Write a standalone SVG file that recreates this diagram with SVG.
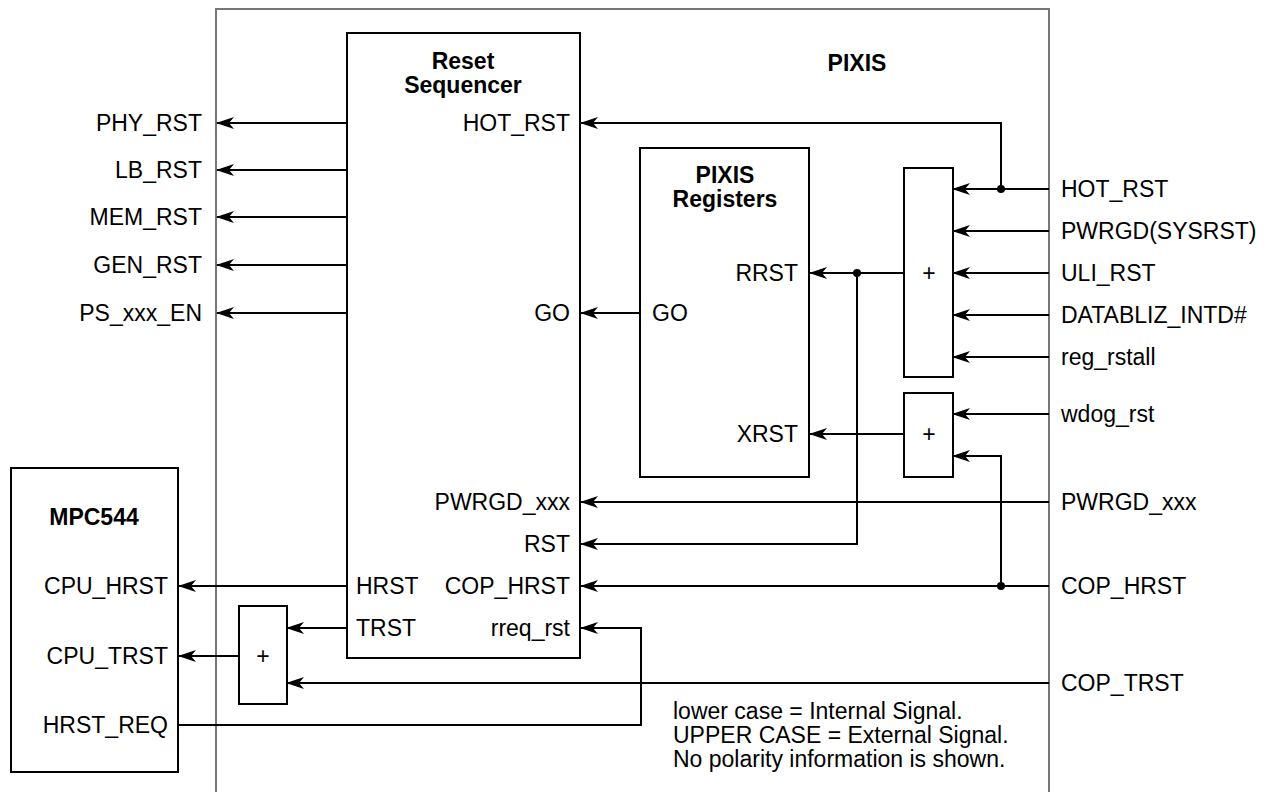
<svg xmlns="http://www.w3.org/2000/svg" width="1274" height="792" viewBox="0 0 1274 792">
<style>
text{font-family:"Liberation Sans",Arial,sans-serif;font-size:23px;fill:#000}
.b{font-weight:bold}
.r{text-anchor:end}
.m{text-anchor:middle}
.box{fill:none;stroke:#000;stroke-width:2}
.wa{fill:none;stroke:#000;stroke-width:2;marker-end:url(#arr)}
.frame{fill:none;stroke:#777;stroke-width:2}
</style>
<defs>
<marker id="arr" markerUnits="userSpaceOnUse" markerWidth="20" markerHeight="14" viewBox="-1 -7 20 14" refX="17" refY="0" orient="auto">
<path d="M18,0 L0,-6 L5,0 L0,6 Z" fill="#000"/>
</marker>
</defs>
<rect width="1274" height="792" fill="#fff"/>
<g id="pixis-frame">
<path class="frame" d="M216,792 V9 H1049 V792"/>
<text class="b m" x="857" y="71">PIXIS</text>
</g>
<g id="reset-sequencer">
<rect class="box" x="347" y="33" width="233" height="625"/>
<text class="b m" x="463" y="69">Reset</text>
<text class="b m" x="463" y="93">Sequencer</text>
<text class="r" x="570" y="131">HOT_RST</text>
<text class="r" x="570" y="321">GO</text>
<text class="r" x="570" y="510">PWRGD_xxx</text>
<text class="r" x="570" y="552">RST</text>
<text class="r" x="570" y="594">COP_HRST</text>
<text class="r" x="570" y="636">rreq_rst</text>
<text x="356" y="594">HRST</text>
<text x="356" y="636">TRST</text>
</g>
<g id="pixis-registers">
<rect class="box" x="640" y="148" width="169" height="329"/>
<text class="b m" x="725" y="183">PIXIS</text>
<text class="b m" x="725" y="207">Registers</text>
<text class="r" x="798" y="281">RRST</text>
<text class="r" x="798" y="442">XRST</text>
<text x="652" y="321">GO</text>
</g>
<g id="or-main">
<rect class="box" x="904" y="168" width="49" height="209"/>
<text class="m" x="929" y="281">+</text>
</g>
<g id="or-xrst">
<rect class="box" x="904" y="393" width="49" height="84"/>
<text class="m" x="929" y="442">+</text>
</g>
<g id="or-trst">
<rect class="box" x="239" y="606" width="48" height="98"/>
<text class="m" x="263" y="664">+</text>
</g>
<g id="mpc544">
<rect class="box" x="11" y="468" width="167" height="304"/>
<text class="b m" x="94" y="525">MPC544</text>
<text class="r" x="168" y="594">CPU_HRST</text>
<text class="r" x="168" y="664">CPU_TRST</text>
<text class="r" x="168" y="733">HRST_REQ</text>
</g>
<g id="outputs-left">
<text class="r" x="202" y="131">PHY_RST</text>
<text class="r" x="202" y="178">LB_RST</text>
<text class="r" x="202" y="225">MEM_RST</text>
<text class="r" x="202" y="273">GEN_RST</text>
<text class="r" x="202" y="321">PS_xxx_EN</text>
</g>
<g id="inputs-right">
<text x="1061" y="197">HOT_RST</text>
<text x="1061" y="239">PWRGD(SYSRST)</text>
<text x="1061" y="281">ULI_RST</text>
<text x="1061" y="323">DATABLIZ_INTD#</text>
<text x="1061" y="365">reg_rstall</text>
<text x="1061" y="422">wdog_rst</text>
<text x="1061" y="510">PWRGD_xxx</text>
<text x="1061" y="594">COP_HRST</text>
<text x="1061" y="691">COP_TRST</text>
</g>
<g id="note">
<text x="673" y="719">lower case = Internal Signal.</text>
<text x="673" y="743">UPPER CASE = External Signal.</text>
<text x="673" y="767">No polarity information is shown.</text>
</g>
<g id="connectors">
<path class="wa" d="M347,123 H217"/>
<path class="wa" d="M347,170 H217"/>
<path class="wa" d="M347,217 H217"/>
<path class="wa" d="M347,265 H217"/>
<path class="wa" d="M347,313 H217"/>
<path class="wa" d="M1049,189 H953"/>
<path class="wa" d="M1001,189 V123 H581"/>
<path class="wa" d="M1049,231 H953"/>
<path class="wa" d="M1049,273 H953"/>
<path class="wa" d="M1049,315 H953"/>
<path class="wa" d="M1049,357 H953"/>
<path class="wa" d="M1049,414 H953"/>
<path class="wa" d="M1001,586 V456 H953"/>
<path class="wa" d="M1049,502 H581"/>
<path class="wa" d="M1049,586 H581"/>
<path class="wa" d="M1049,683 H287"/>
<path class="wa" d="M904,273 H810"/>
<path class="wa" d="M857,273 V544 H581"/>
<path class="wa" d="M904,434 H810"/>
<path class="wa" d="M640,313 H581"/>
<path class="wa" d="M178,725 H641 V628 H581"/>
<path class="wa" d="M239,656 H179"/>
<path class="wa" d="M347,586 H179"/>
<path class="wa" d="M347,628 H287"/>
<circle cx="1001" cy="189" r="4"/>
<circle cx="857" cy="273" r="4"/>
<circle cx="1001" cy="586" r="4"/>
</g>
</svg>
